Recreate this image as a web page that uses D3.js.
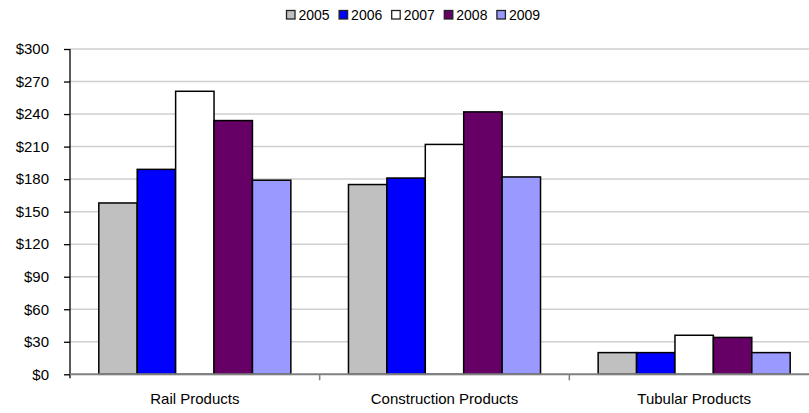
<!DOCTYPE html>
<html>
<head>
<meta charset="utf-8">
<script src="https://cdn.jsdelivr.net/npm/d3@7"></script>
<style>
  html, body { margin: 0; padding: 0; background: #fff; overflow: hidden; }
  svg { display: block; font-family: "Liberation Sans", Arial, sans-serif; }
</style>
</head>
<body>
<svg id="chart" width="809" height="413"></svg>
<script>
// Revenue by product line, in millions of dollars
const categories = ["Rail Products", "Construction Products", "Tubular Products"];
const years = ["2005", "2006", "2007", "2008", "2009"];
const values2005 = [158, 175, 20];
const values2006 = [189, 181, 20];
const values2007 = [261, 212, 36];
const values2008 = [234, 242, 34];
const values2009 = [179, 182, 20];
const yTicks = [0, 30, 60, 90, 120, 150, 180, 210, 240, 270, 300];

const seriesValues = [values2005, values2006, values2007, values2008, values2009];
const colors = ["#C0C0C0", "#0000FF", "#FFFFFF", "#660066", "#9999FF"];

const svg = d3.select("#chart");
const plot = { left: 70, right: 819, top: 49, bottom: 374.3 };

const x0 = d3.scaleBand().domain(categories).range([plot.left, plot.right]).paddingInner(0).paddingOuter(0);
const x1 = d3.scaleBand().domain(years).range([0, x0.bandwidth()]).paddingInner(0).paddingOuter(0.75);
const y = d3.scaleLinear().domain([0, 300]).range([plot.bottom, plot.top]);

// Horizontal gridlines
svg.append("g")
  .selectAll("line")
  .data(yTicks.filter(t => t > 0))
  .join("line")
  .attr("x1", plot.left).attr("x2", plot.right)
  .attr("y1", d => y(d)).attr("y2", d => y(d))
  .attr("stroke", "#cfcfcf").attr("stroke-width", 1.5);

// Bars
const rows = categories.map((c, i) => ({ category: c, bars: years.map((yr, j) => ({ year: yr, value: seriesValues[j][i], color: colors[j] })) }));
svg.append("g")
  .selectAll("g")
  .data(rows)
  .join("g")
  .attr("transform", d => `translate(${x0(d.category)},0)`)
  .selectAll("rect")
  .data(d => d.bars)
  .join("rect")
  .attr("x", d => x1(d.year))
  .attr("width", x1.bandwidth())
  .attr("y", d => y(d.value))
  .attr("height", d => y(0) - y(d.value))
  .attr("fill", d => d.color)
  .attr("stroke", "#000")
  .attr("stroke-width", 1.5);

// Y axis
const yAxis = svg.append("g")
  .attr("transform", `translate(${plot.left},0)`)
  .call(d3.axisLeft(y).tickValues(yTicks).tickSize(6).tickPadding(15).tickFormat(d => "$" + d));
yAxis.select(".domain").attr("stroke", "#000").attr("stroke-width", 1.3).attr("d", `M0,${plot.top}V${plot.bottom + 4}`);
yAxis.selectAll(".tick line").attr("stroke", "#000").attr("stroke-width", 1.3);
yAxis.selectAll(".tick text").attr("font-size", 15).attr("fill", "#000").attr("font-family", "Liberation Sans, Arial, sans-serif");

// X axis
const xAxis = svg.append("g")
  .attr("transform", `translate(0,${plot.bottom})`);
xAxis.append("line")
  .attr("x1", plot.left).attr("x2", plot.right)
  .attr("y1", 0).attr("y2", 0)
  .attr("stroke", "#808080").attr("stroke-width", 2);
xAxis.selectAll(".sep")
  .data(categories.slice(1))
  .join("line")
  .attr("class", "sep")
  .attr("x1", d => x0(d)).attr("x2", d => x0(d))
  .attr("y1", 0).attr("y2", 6)
  .attr("stroke", "#808080").attr("stroke-width", 1.5);
xAxis.selectAll(".cat")
  .data(categories)
  .join("text")
  .attr("class", "cat")
  .attr("x", d => x0(d) + x0.bandwidth() / 2)
  .attr("y", 30)
  .attr("text-anchor", "middle")
  .attr("font-size", 15)
  .attr("fill", "#000")
  .text(d => d);

// Legend
const legend = svg.append("g").attr("transform", "translate(286,10)");
const item = legend.selectAll("g")
  .data(years)
  .join("g")
  .attr("transform", (d, i) => `translate(${i * 52.6},0)`);
item.append("rect")
  .attr("x", 0.5).attr("y", 0.5)
  .attr("width", 8.5).attr("height", 8.5)
  .attr("fill", (d, i) => colors[i])
  .attr("stroke", "#222").attr("stroke-width", 1.3);
item.append("text")
  .attr("x", 12.5).attr("y", 10)
  .attr("font-size", 14)
  .attr("fill", "#000")
  .text(d => d);
</script>
</body>
</html>
